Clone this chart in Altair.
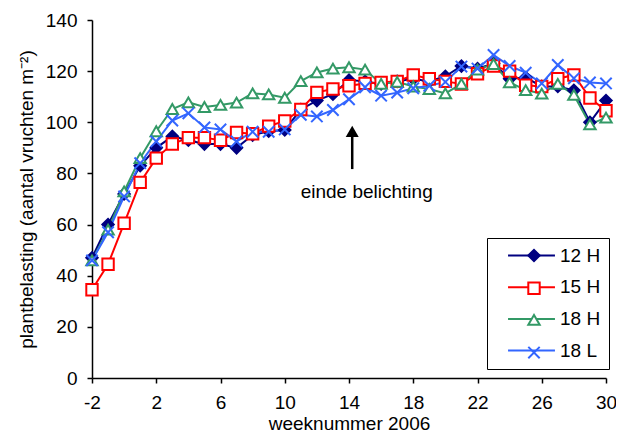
import altair as alt
import pandas as pd

weeks = list(range(-2, 31))
h12 = [47, 60, 72, 83, 90, 94.5, 93, 91.5, 91.5, 90, 95, 96.5, 97, 105, 108.5, 111,
       116.5, 116, 115, 116, 117, 116, 118, 122, 121, 123, 117, 117.5, 114, 114, 112.5, 100, 108.5]
h15 = [34.5, 44.5, 60.5, 76.5, 86, 91.5, 94, 94, 93, 96, 95.5, 98.5, 100.5, 105, 111.7, 113,
       114.3, 115.2, 115.6, 116, 118.5, 117, 116, 115, 119, 122, 120, 114.5, 114, 117, 118.5, 109.5, 104.5]
h18 = [46, 58, 73, 86, 96.5, 105.2, 107.8, 106, 106.8, 107.7, 111.3, 110.9, 109.6, 116.1, 119.5, 121,
       121.5, 120.6, 115, 115.8, 114, 113, 111.3, 115, 120.6, 122.8, 115.6, 112.6, 111.2, 115, 110.7, 99.2, 101.8]
l18 = [46, 57, 71, 84, 92.5, 100.7, 103.5, 98, 97.2, 92.5, 96.3, 96.3, 97.2, 102.9, 102.3, 104.8,
       109, 113.7, 110.4, 111.6, 113.3, 114.3, 115.8, 121.8, 121, 126.3, 122, 119.4, 115.2, 122.4, 117.2, 115.6, 115.2]

series_names = ["12 H", "15 H", "18 H", "18 L"]
marker_keys = ["m12 H", "m15 H", "m18 H", "m18 L"]
colors = ["#000080", "#FF0000", "#339966", "#3366FF"]
fills = ["#000080", "#FFFFFF", "#FFFFFF", "#3366FF"]
shapes = ["diamond", "square", "triangle-up", "M-1,-1L1,1M-1,1L1,-1"]

x_ticks = [-2, 2, 6, 10, 14, 18, 22, 26, 30]
y_ticks = [0, 20, 40, 60, 80, 100, 120, 140]

arrow_x = [14.2]
arrow_tail = [81.7]
arrow_shaft_top = [94.5]
arrow_head = [96.4]
note_x = [15.1]
note_y = [72.7]
note_text = ["einde belichting"]

rows = []
for name, key, vals in zip(series_names, marker_keys, [h12, h15, h18, l18]):
    for w, v in zip(weeks, vals):
        rows.append({"week": w, "value": v, "s1": name, "s2": key})
df = pd.DataFrame(rows)

FONT = "Liberation Sans"

xenc = alt.X("week:Q", scale=alt.Scale(domain=[-2, 30], nice=False, zero=False),
             axis=alt.Axis(values=x_ticks, title="weeknummer 2006", grid=False,
                           labelFontSize=19, titleFontSize=19, titleFontWeight="normal",
                           tickSize=5, labelPadding=10, titleY=51, titleBaseline="alphabetic",
                           labelFlush=False, labelExpr="'' + datum.value"))
yenc = alt.Y("value:Q", scale=alt.Scale(domain=[0, 140], nice=False),
             axis=alt.Axis(values=y_ticks, title="plantbelasting (aantal vruchten m\u207b\u00b2)",
                           grid=False, labelFontSize=19, titleFontSize=19, titleFontWeight="normal",
                           tickSize=5, labelPadding=10, titleX=-66, titleBaseline="middle"))

base = alt.Chart(df).encode(x=xenc, y=yenc)

line_legend = alt.Legend(
    title=None, orient="none", legendX=395, legendY=218, direction="vertical",
    symbolType="M-2.76,0H2.76", symbolSize=289, symbolStrokeWidth=2, symbolOffset=27,
    labelFontSize=19, labelOffset=19, rowPadding=11.7, padding=8,
    strokeColor="black", fillColor="white", labelColor="black",
    labelExpr="datum.label + '\u00a0\u00a0\u00a0'",
)
lines = base.mark_line(strokeWidth=2).encode(
    color=alt.Color("s1:N", scale=alt.Scale(domain=series_names, range=colors), legend=line_legend)
)

pt_legend = alt.Legend(
    title=None, orient="none", legendX=432.5, legendY=226, direction="vertical",
    symbolSize=130, symbolStrokeWidth=2, labelFontSize=19, labelOffset=19,
    rowPadding=11.7, padding=0, labelExpr="''",
)
points = base.mark_point(strokeWidth=2, opacity=1, fillOpacity=1, size=130).encode(
    shape=alt.Shape("s2:N", scale=alt.Scale(domain=marker_keys, range=shapes), legend=pt_legend),
    stroke=alt.Stroke("s2:N", scale=alt.Scale(domain=marker_keys, range=colors), legend=pt_legend),
    fill=alt.Fill("s2:N", scale=alt.Scale(domain=marker_keys, range=fills), legend=pt_legend),
)

arrow_df = pd.DataFrame({"x": arrow_x, "y1": arrow_tail, "y2": arrow_shaft_top, "yh": arrow_head})
shaft = alt.Chart(arrow_df).mark_rule(strokeWidth=2.5, color="black").encode(
    x="x:Q", y="y1:Q", y2="y2:Q")
head = alt.Chart(arrow_df).mark_point(shape="triangle-up", size=169, filled=True, color="black",
                                       opacity=1).encode(x="x:Q", y="yh:Q")
note_df = pd.DataFrame({"x": note_x, "y": note_y, "t": note_text})
note = alt.Chart(note_df).mark_text(fontSize=19, align="center", baseline="middle",
                                    color="black", font=FONT).encode(x="x:Q", y="y:Q", text="t:N")

chart = alt.layer(lines, points, shaft, head, note).properties(
    width=514, height=358,
    autosize=alt.AutoSizeParams(type="none"),
    padding={"left": 84, "top": 12, "right": 10, "bottom": 55},
).configure(font=FONT).configure_view(stroke=None).configure_axis(
    domainColor="black", tickColor="black", labelColor="black", titleColor="black",
    domainWidth=1.5, tickWidth=1.5, labelFont=FONT, titleFont=FONT,
).configure_legend(labelFont=FONT)

chart.save("out.html", embed_options={"renderer": "svg", "actions": False})
